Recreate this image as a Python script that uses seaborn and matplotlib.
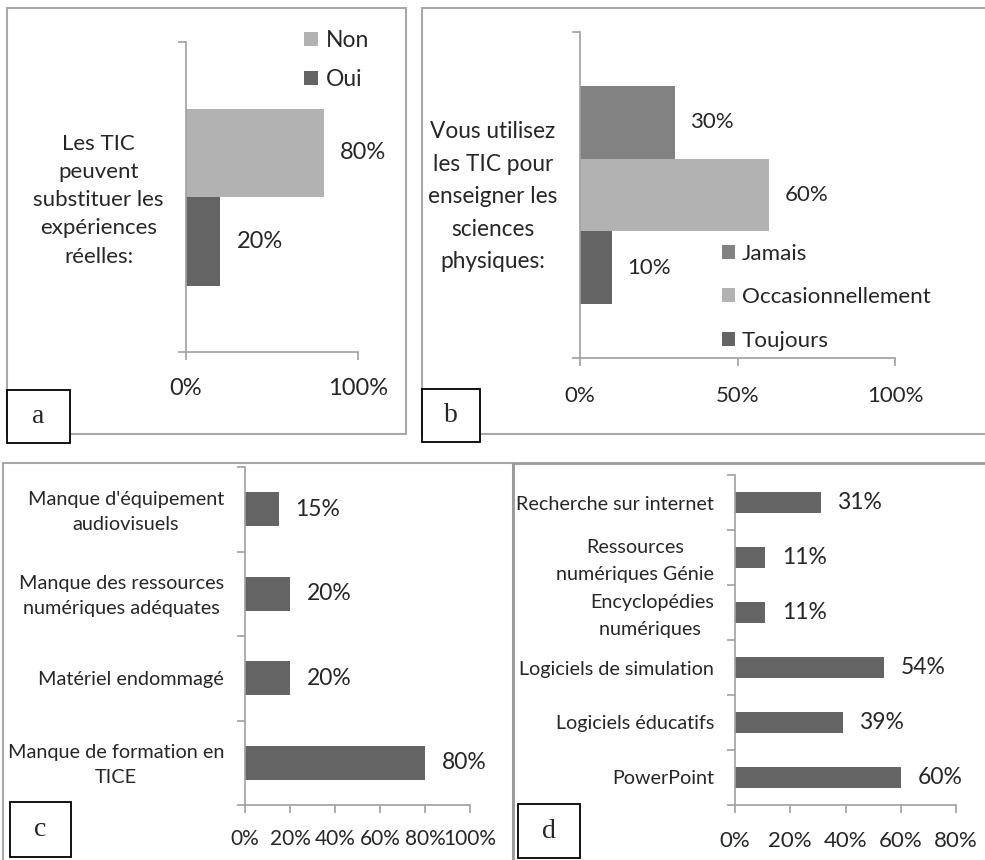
import numpy as np
import pandas as pd
import seaborn as sns
from matplotlib import pyplot as plt
from matplotlib.patches import Rectangle

# panel a
a_question = "Les TIC\npeuvent\nsubstituer les\nexpériences\nréelles:"
a_responses = ["Non", "Oui"]
a_values = [80, 20]

# panel b
b_question = "Vous utilisez\nles TIC pour\nenseigner les\nsciences\nphysiques:"
b_responses = ["Jamais", "Occasionnellement", "Toujours"]
b_values = [30, 60, 10]

# panel c
c_labels = ["Manque d'équipement\naudiovisuels",
            "Manque des ressources\nnumériques adéquates",
            "Matériel endommagé",
            "Manque de formation en\nTICE"]
c_values = [15, 20, 20, 80]

# panel d
d_labels = ["Recherche sur internet",
            "Ressources\nnumériques Génie",
            "Encyclopédies\nnumériques ",
            "Logiciels de simulation",
            "Logiciels éducatifs",
            "PowerPoint"]
d_values = [31, 11, 11, 54, 39, 60]

DARK = "#646464"
LIGHT = "#b2b2b2"
MID = "#828282"
AXIS_GREY = "#a0a0a0"

sns.set_theme(style="white")
plt.rcParams['font.family'] = ['Lato', 'DejaVu Sans']

W, H = 985, 860
fig = plt.figure(figsize=(W / 100, H / 100), dpi=100)


def px_axes(left, top, right, bottom):
    return fig.add_axes([left / W, 1 - bottom / H, (right - left) / W, (bottom - top) / H])


def frame(x0, y0, x1, y1, color="#a8a8a8", lw=1.5, fill=False, z=1):
    r = Rectangle((x0 / W, 1 - y1 / H), (x1 - x0) / W, (y1 - y0) / H,
                  transform=fig.transFigure, fill=fill, facecolor="white",
                  edgecolor=color, lw=lw, zorder=z)
    fig.add_artist(r)


def letter_box(x0, y0, x1, y1, letter):
    frame(x0, y0, x1, y1, color="black", lw=1.3, fill=True, z=10)
    fig.text((x0 + x1) / 2 / W, 1 - (y0 + y1) / 2 / H, letter, ha="center", va="center",
             family="Liberation Serif", fontsize=20, zorder=11)


def label_positions(labels, shift):
    # multi-line labels sit a little high, like in the original
    return [i - (shift if "\n" in lab else 0) for i, lab in enumerate(labels)]


def style_axes(ax, xticks, xmax, ylim, yticks, cat_pos, cat_labels, cat_size, linespacing,
               ypad, xpad, tick_size):
    sns.despine(ax=ax)
    for s in ["left", "bottom"]:
        ax.spines[s].set_color(AXIS_GREY)
        ax.spines[s].set_linewidth(1.2)
    ax.set_xlim(0, xmax)
    ax.set_ylim(*ylim)
    ax.set_xticks(xticks)
    ax.set_xticklabels([f"{t}%" for t in xticks], fontsize=tick_size)
    ax.set_yticks(yticks)
    ax.set_yticklabels([])
    ax.set_yticks(cat_pos, minor=True)
    ax.set_yticklabels(cat_labels, minor=True, fontsize=cat_size,
                       multialignment="center", linespacing=linespacing)
    ax.tick_params(axis="both", which="major", length=6, width=1.2, color=AXIS_GREY,
                   direction="out", left=True, bottom=True)
    ax.tick_params(axis="y", which="minor", length=0, pad=ypad)
    ax.tick_params(axis="x", which="major", pad=xpad)
    ax.set_xlabel("")
    ax.set_ylabel("")
    ax.grid(False)


# frames around the four panels
frame(7, 8, 406, 434)
frame(422, 8, 1000, 434)
frame(3, 463, 513, 880)
frame(513, 463, 1000, 880, color="#9a9a9a", lw=2)

# ---- panel a
ax_a = px_axes(186, 42, 358, 352)
df_a = pd.DataFrame({"q": [a_question] * len(a_responses), "r": a_responses, "v": a_values})
sns.barplot(data=df_a, y="q", x="v", hue="r", hue_order=a_responses, palette=[LIGHT, DARK],
            orient="h", width=0.8, saturation=1, linewidth=0, errorbar=None, ax=ax_a)
lim_a = 0.8 * 310 / 177 / 2
style_axes(ax_a, [0, 100], 100, (lim_a, -lim_a), [-lim_a, lim_a],
           label_positions([a_question], 3 * 2 * lim_a / 310), [a_question],
           16, 1.52, 16, 13, 17)
for c in ax_a.containers:
    ax_a.bar_label(c, labels=[f"{v:.0f}%" for v in c.datavalues], padding=12, fontsize=17)
sns.move_legend(ax_a, "upper left", bbox_to_anchor=(304 / W, 1 - 30 / H),
                bbox_transform=fig.transFigure, frameon=False, title="", fontsize=16.5,
                handlelength=0.6, handleheight=0.6, handletextpad=0.35, labelspacing=0.78,
                borderpad=0, borderaxespad=0)

# ---- panel b
ax_b = px_axes(580, 32, 895, 358)
df_b = pd.DataFrame({"q": [b_question] * len(b_responses), "r": b_responses, "v": b_values})
sns.barplot(data=df_b, y="q", x="v", hue="r", hue_order=b_responses, palette=[MID, LIGHT, DARK],
            orient="h", width=0.8, saturation=1, linewidth=0, errorbar=None, ax=ax_b)
lim_b = 0.8 * 326 / 218 / 2
style_axes(ax_b, [0, 50, 100], 100, (lim_b, -lim_b), [-lim_b, lim_b],
           label_positions([b_question], 6 * 2 * lim_b / 326), [b_question],
           16.3, 1.68, 16, 14, 16)
for c in ax_b.containers:
    ax_b.bar_label(c, labels=[f"{v:.0f}%" for v in c.datavalues], padding=11, fontsize=16)
sns.move_legend(ax_b, "upper left", bbox_to_anchor=(722 / W, 1 - 244 / H),
                bbox_transform=fig.transFigure, frameon=False, title="", fontsize=16.1,
                handlelength=0.6, handleheight=0.6, handletextpad=0.3, labelspacing=1.04,
                borderpad=0, borderaxespad=0)

# ---- panel c
ax_c = px_axes(245, 467, 470, 805)
df_c = pd.DataFrame({"label": c_labels, "v": c_values})
sns.barplot(data=df_c, y="label", x="v", color=DARK, orient="h", width=0.4, saturation=1,
            linewidth=0, errorbar=None, ax=ax_c)
n_c = len(c_labels)
style_axes(ax_c, [0, 20, 40, 60, 80, 100], 100, (n_c - 0.5, -0.5),
           np.arange(n_c + 1) - 0.5, label_positions(c_labels, 3 / 84.5), c_labels,
           14.3, 1.58, 15, 11, 15)
for c in ax_c.containers:
    ax_c.bar_label(c, labels=[f"{v:.0f}%" for v in c.datavalues], padding=12, fontsize=16.5)

# ---- panel d
ax_d = px_axes(735, 475, 956, 805)
df_d = pd.DataFrame({"label": d_labels, "v": d_values})
sns.barplot(data=df_d, y="label", x="v", color=DARK, orient="h", width=0.38, saturation=1,
            linewidth=0, errorbar=None, ax=ax_d)
n_d = len(d_labels)
style_axes(ax_d, [0, 20, 40, 60, 80], 80, (n_d - 0.5, -0.5),
           np.arange(n_d + 1) - 0.5, label_positions(d_labels, 3 / 55), d_labels,
           14.2, 1.68, 15, 13, 16)
for c in ax_d.containers:
    ax_d.bar_label(c, labels=[f"{v:.0f}%" for v in c.datavalues], padding=12, fontsize=16.5)

# letter boxes
letter_box(7, 390, 70, 443, "a")
letter_box(422, 389, 480, 442, "b")
letter_box(10, 802, 71, 857, "c")
letter_box(518, 804, 580, 858, "d")

fig.savefig("out.png", dpi=100)
